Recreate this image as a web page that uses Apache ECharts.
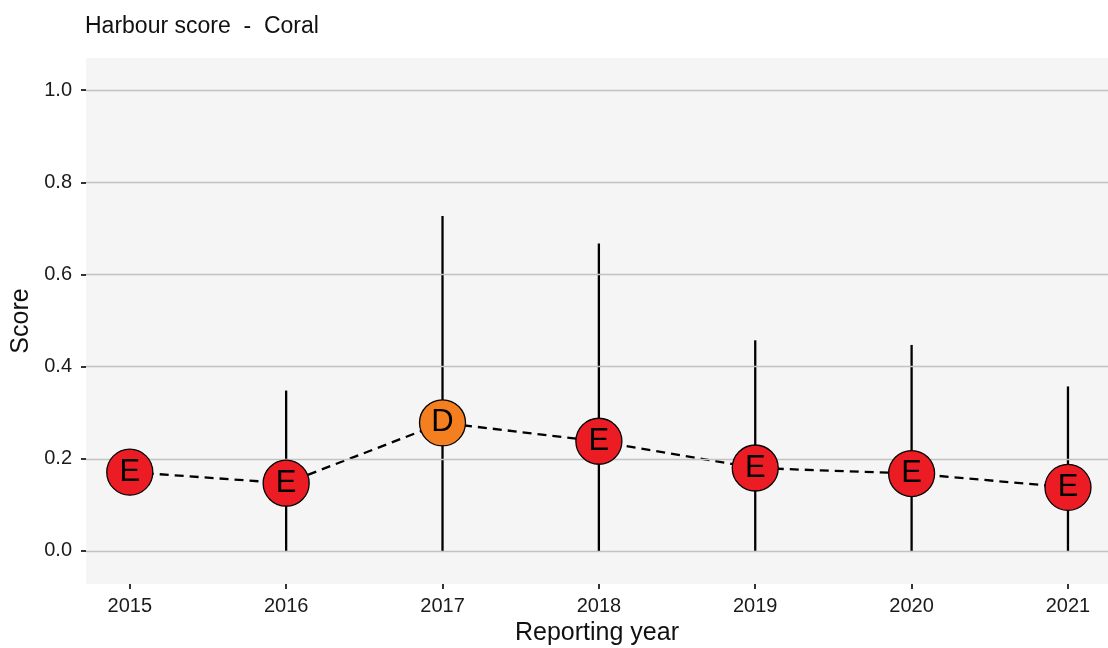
<!DOCTYPE html>
<html>
<head>
<meta charset="utf-8">
<script src="https://cdn.jsdelivr.net/npm/echarts@6/dist/echarts.min.js"></script>
<style>
  html, body { margin: 0; padding: 0; background: #fff; }
  #main { width: 1108px; height: 648px; }
</style>
</head>
<body>
<div id="main"></div>
<script>
// data
var years = [2015, 2016, 2017, 2018, 2019, 2020, 2021];
var scores = [0.171, 0.147, 0.278, 0.238, 0.18, 0.168, 0.138];
var grades = ['E', 'E', 'D', 'E', 'E', 'E', 'E'];
var lower = [null, 0, 0, 0, 0, 0, 0];
var upper = [null, 0.348, 0.727, 0.667, 0.457, 0.447, 0.357];
var yTicks = [0, 0.2, 0.4, 0.6, 0.8, 1.0];

var gradeColors = { D: '#f47f20', E: '#ec1c24' };
var fontName = 'Liberation Sans';

var chart = echarts.init(document.getElementById('main'), null, { renderer: 'canvas' });

var pointData = years.map(function (y, i) {
  return {
    value: [y, scores[i]],
    grade: grades[i],
    itemStyle: { color: gradeColors[grades[i]] }
  };
});
var lineData = years.map(function (y, i) { return [y, scores[i]]; });
var barData = [];
years.forEach(function (y, i) {
  if (upper[i] != null) barData.push([y, lower[i], upper[i]]);
});

var option = {
  animation: false,
  title: {
    text: 'Harbour score  -  Coral',
    left: 80,
    top: 10,
    textStyle: { fontFamily: fontName, fontSize: 23, fontWeight: 'normal', color: '#111' }
  },
  grid: {
    left: 86, right: 0, top: 58, bottom: 64,
    outerBoundsMode: 'none',
    containLabel: false,
    show: true, backgroundColor: '#f5f5f5', borderWidth: 0
  },
  xAxis: {
    type: 'value',
    min: 2014.72,
    max: 2021.256,
    name: 'Reporting year',
    nameLocation: 'middle',
    nameGap: 37,
    nameTextStyle: { fontFamily: fontName, fontSize: 25, color: '#111' },
    axisLine: { show: false, onZero: false },
    axisTick: { show: true, length: 5, customValues: years, lineStyle: { color: '#333', width: 2 } },
    axisLabel: { customValues: years, margin: 12, fontFamily: fontName, fontSize: 20, color: '#1a1a1a',
      formatter: function (v) { return String(Math.round(v)); } },
    splitLine: { show: false }
  },
  yAxis: {
    type: 'value',
    min: -0.0717,
    max: 1.0696,
    name: 'Score',
    nameLocation: 'middle',
    nameRotate: 90,
    nameGap: 48,
    nameTextStyle: { fontFamily: fontName, fontSize: 25, color: '#111' },
    axisLine: { show: false, onZero: false },
    axisTick: { show: true, length: 5, customValues: yTicks, lineStyle: { color: '#333', width: 2 } },
    axisLabel: { customValues: yTicks, margin: 14, fontFamily: fontName, fontSize: 20, color: '#1a1a1a',
      formatter: function (v) { return v.toFixed(1); } },
    splitLine: { show: false }
  },
  series: [
    {
      // horizontal gridlines
      type: 'line',
      data: [],
      silent: true,
      z: 1,
      markLine: {
        silent: true,
        symbol: 'none',
        label: { show: false },
        lineStyle: { color: '#c2c2c2', width: 1.3, type: 'solid' },
        data: yTicks.map(function (t) { return { yAxis: t }; })
      }
    },
    {
      type: 'custom',
      data: barData,
      z: 2,
      renderItem: function (params, api) {
        var p1 = api.coord([api.value(0), api.value(1)]);
        var p2 = api.coord([api.value(0), api.value(2)]);
        return {
          type: 'line',
          shape: { x1: p1[0], y1: p1[1], x2: p2[0], y2: p2[1] },
          style: { stroke: '#000', lineWidth: 2.3 }
        };
      }
    },
    {
      type: 'line',
      data: lineData,
      showSymbol: false,
      z: 3,
      lineStyle: { color: '#000', width: 2.3, type: [9, 6] }
    },
    {
      type: 'scatter',
      data: pointData,
      symbolSize: 46,
      z: 5,
      itemStyle: { borderColor: '#000', borderWidth: 1.3, opacity: 1 },
      label: {
        show: true,
        position: 'inside',
        fontFamily: fontName,
        fontSize: 31,
        color: '#000',
        formatter: function (p) { return p.data.grade; }
      }
    }
  ]
};

chart.setOption(option);
</script>
</body>
</html>
